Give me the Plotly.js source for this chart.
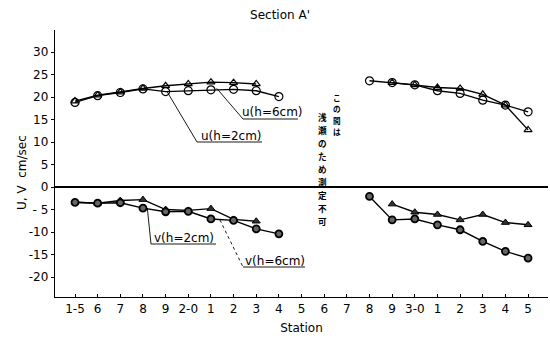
<!DOCTYPE html>
<html><head><meta charset="utf-8">
<script src="https://cdn.plot.ly/plotly-3.0.1.min.js"></script>
<style>body{margin:0;background:#fff}#c{width:550px;height:338px}</style>
</head><body><div id="c"></div>
<script>
// Station tick labels (positions 0..20)
const stations = ["1-5","6","7","8","9","2-0","1","2","3","4","5","6","7","8","9","3-0","1","2","3","4","5"];
const pos = stations.map((s,i)=>i);
// u, cm/sec
const u_h2 = [18.8,20.3,21.0,21.8,21.2,21.4,21.6,21.7,21.4,20.1,null,null,null,23.6,23.2,22.7,21.4,20.8,19.3,18.2,16.7];
const u_h6 = [19.1,20.4,21.1,21.9,22.5,22.9,23.3,23.2,22.9,null,null,null,null,null,23.2,22.7,22.1,21.9,20.6,18.2,12.7];
// v, cm/sec
const v_h2 = [-3.4,-3.6,-3.5,-4.7,-5.5,-5.4,-7.1,-7.4,-9.3,-10.4,null,null,null,-2.1,-7.3,-7.1,-8.4,-9.5,-12.1,-14.3,-15.8];
const v_h6 = [-3.4,-3.6,-3.0,-2.8,-5.0,-5.2,-4.8,-7.2,-7.6,null,null,null,null,null,-3.8,-5.6,-6.1,-7.3,-6.1,-7.9,-8.4];
const yTicks = [30,25,20,15,10,5,0,-5,-10,-15,-20];
const yTickText = ["30","25","20","15","10","5","0","- 5","-10","-15","-20"];
const noteRight = "この間は";
const noteLeft = "浅瀬のため測定不可";

// pixel helpers for annotation placement
const L=55, T=30, W=493, H=267;
const xr=[-0.883,20.88], yr=[-24.44,34.89];
const X = p => xr[0] + (p-L)/W*(xr[1]-xr[0]);
const Y = p => yr[1] - (p-T)/H*(yr[1]-yr[0]);

const line = {color:'#000', width:1.4};
const traces = [
  {x:pos, y:u_h6, mode:'lines+markers', line:line, connectgaps:false,
   marker:{symbol:'triangle-up-open', size:7, color:'#000', line:{width:1.2}}},
  {x:pos, y:u_h2, mode:'lines+markers', line:line, connectgaps:false,
   marker:{symbol:'circle-open', size:8, color:'#000', line:{width:1.2}}},
  {x:pos, y:v_h6, mode:'lines+markers', line:line, connectgaps:false,
   marker:{symbol:'triangle-up', size:7, color:'#333', line:{color:'#000',width:1}}},
  {x:pos, y:v_h2, mode:'lines+markers', line:line, connectgaps:false,
   marker:{symbol:'circle', size:7, color:'#666', line:{color:'#000',width:1.8}}}
];

function seg(x0,y0,x1,y1,dash){return {type:'line',xref:'x',yref:'y',x0:X(x0),y0:Y(y0),x1:X(x1),y1:Y(y1),line:{color:'#000',width:0.9,dash:dash||'solid'}};}
const shapes = [
  seg(216.7,88.3,243,119), seg(243,119,298,119),
  seg(167.3,92,197,142), seg(197,142,262,142),
  seg(147.3,208,151,244), seg(151,244,216,244),
  seg(220,220,243,267,'dot'), seg(243,267,305,267)
];
const lf = {family:'DejaVu Sans', size:12, color:'#000'};
function lab(t,px,py){return {text:t,x:X(px),y:Y(py),xref:'x',yref:'y',showarrow:false,font:lf,xanchor:'center',yanchor:'middle'};}
const jp = {family:'Noto Sans CJK JP', color:'#000', weight:'bold'};
const annotations = [
  lab('u(h=6cm)',272,112), lab('u(h=2cm)',231,136),
  lab('v(h=2cm)',184,238), lab('v(h=6cm)',275,261),
  {text:'U, V  cm/sec', x:(22-L)/W, y:1-(173-T)/H, xref:'paper', yref:'paper', showarrow:false, textangle:-90,
   xanchor:'center', yanchor:'middle', font:{family:'DejaVu Sans', size:12, color:'#000'}}
];
// vertical Japanese note, one character per annotation
noteRight.split('').forEach((c,i)=>annotations.push({text:c, x:X(337), y:Y(97+i*11.6), xref:'x', yref:'y',
  showarrow:false, borderpad:0, font:Object.assign({size:7.6},jp), xanchor:'center', yanchor:'middle'}));
noteLeft.split('').forEach((c,i)=>annotations.push({text:c, x:X(322.5), y:Y(117+i*13), xref:'x', yref:'y',
  showarrow:false, borderpad:0, font:Object.assign({size:8.6},jp), xanchor:'center', yanchor:'middle'}));

const layout = {
  width:550, height:338, margin:{l:L, r:550-L-W, t:T, b:338-T-H},
  paper_bgcolor:'#fff', plot_bgcolor:'#fff', showlegend:false,
  title:{text:"Section A'", x:280/550, xanchor:'center', y:1-15/338, yanchor:'middle',
         font:{family:'DejaVu Sans', size:12, color:'#000'}},
  xaxis:{range:xr, tickvals:pos, ticktext:stations, showgrid:false, zeroline:false,
         showline:true, linecolor:'#000', linewidth:1.2, ticks:'inside', ticklen:3, tickcolor:'#000',
         tickfont:{family:'DejaVu Sans', size:12, color:'#000'},
         title:{text:'Station', font:{family:'DejaVu Sans', size:12, color:'#000'}, standoff:9}},
  yaxis:{range:yr, tickvals:yTicks, ticktext:yTickText, showgrid:false,
         zeroline:true, zerolinecolor:'#000', zerolinewidth:1.2,
         showline:true, linecolor:'#000', linewidth:1.2, ticks:'outside', ticklen:3, tickcolor:'#000',
         tickfont:{family:'DejaVu Sans', size:12, color:'#000'}},
  shapes:shapes, annotations:annotations
};
Plotly.newPlot('c', traces, layout, {displayModeBar:false, staticPlot:true});
</script></body></html>
